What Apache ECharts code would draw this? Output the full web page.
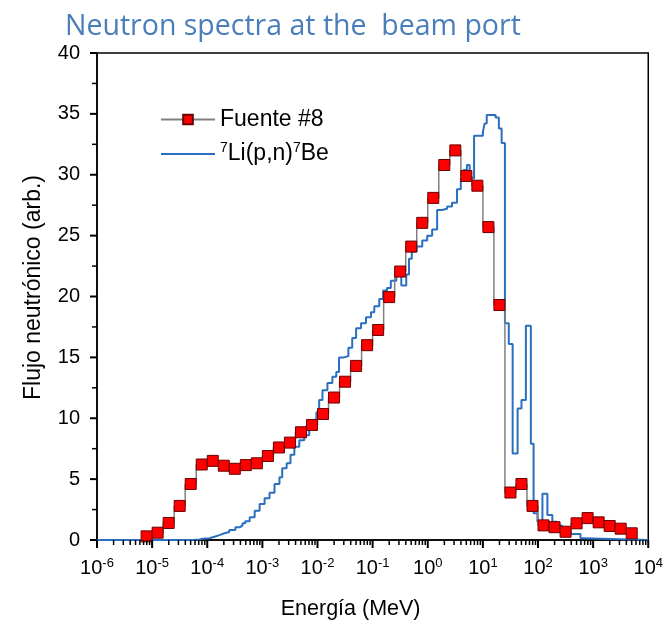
<!DOCTYPE html>
<html><head><meta charset="utf-8">
<script src="https://cdn.jsdelivr.net/npm/echarts@6/dist/echarts.min.js"></script>
<style>html,body{margin:0;padding:0;background:#fff}#c{width:666px;height:626px}</style>
</head><body><div id="c"></div>
<script>
// Fuente #8 : bin centres (log10 MeV) and flux
const fuenteLogE = [-5.1,-4.9,-4.7,-4.5,-4.3,-4.1,-3.9,-3.7,-3.5,-3.3,-3.1,-2.9,-2.7,-2.5,-2.3,-2.1,-1.9,-1.7,-1.5,-1.3,-1.1,-0.9,-0.7,-0.5,-0.3,-0.1,0.1,0.3,0.5,0.7,0.9,1.1,1.3,1.5,1.7,1.9,2.1,2.3,2.5,2.7,2.9,3.1,3.3,3.5,3.7];
const fuenteFlux = [0.3,0.6,1.4,2.8,4.6,6.2,6.5,6.1,5.85,6.15,6.3,6.9,7.6,8.0,8.85,9.45,10.35,11.7,13.0,14.3,16.0,17.25,19.95,22.05,24.1,26.05,28.1,30.8,32.0,29.9,29.1,25.7,19.3,3.9,4.6,2.8,1.2,1.05,0.68,1.37,1.8,1.45,1.15,0.93,0.55];
// 7Li(p,n)7Be : bin lower edges (log10 MeV) and flux
const liLogE = [-6,-4.39,-4.23,-4.14,-4.08,-3.96,-3.87,-3.78,-3.69,-3.60,-3.49,-3.41,-3.36,-3.31,-3.23,-3.14,-3.05,-2.96,-2.87,-2.78,-2.69,-2.64,-2.56,-2.49,-2.42,-2.33,-2.24,-2.15,-2.09,-2.02,-1.97,-1.91,-1.82,-1.73,-1.66,-1.61,-1.52,-1.44,-1.37,-1.30,-1.21,-1.12,-1.03,-0.97,-0.88,-0.81,-0.74,-0.67,-0.57,-0.48,-0.39,-0.34,-0.29,-0.20,-0.10,-0.01,0.08,0.17,0.26,0.35,0.44,0.53,0.60,0.65,0.71,0.76,0.84,1.00,1.03,1.07,1.23,1.29,1.34,1.40,1.47,1.54,1.63,1.70,1.78,1.87,1.92,1.99,2.08,2.17,2.26,2.34,2.43,2.59,2.77,2.82,4];
const liFlux = [0,0.02,0.05,0.1,0.15,0.27,0.4,0.55,0.65,0.82,1.04,1.2,1.37,1.55,1.86,2.4,2.96,3.42,3.88,4.6,5.15,5.9,6.3,7.0,7.66,8.2,8.6,9.3,9.6,10.5,11.5,12.3,12.9,13.4,13.8,15.0,15.1,15.8,16.6,17.4,17.8,18.3,18.7,19.2,19.8,20.5,20.7,21.3,21.8,20.9,21.8,23.1,23.7,24.1,24.6,25.0,25.5,27.1,27.2,27.4,27.7,28.8,29.7,30.4,30.8,29.7,33.2,33.5,34.2,34.9,34.7,33.8,32.6,17.8,16.1,7.1,10.8,11.5,17.6,7.9,2.2,1.5,3.8,2.05,1.5,1.2,0.7,0.5,0.15,0,0];
const xDecades = [1e-6,1e-5,1e-4,1e-3,1e-2,1e-1,1e0,1e1,1e2,1e3,1e4];
const yMajor = [0,5,10,15,20,25,30,35,40];

// axis tick marks (decoration only)
const xMinor = [];
for (let d = 0; d < xDecades.length - 1; d++) {
  for (let m = 2; m <= 9; m++) xMinor.push(xDecades[d] * m);
}
const yMinor = yMajor.slice(0, -1).map(v => v + 2.5);
const FONT = 'Liberation Sans';
const chart = echarts.init(document.getElementById('c'), null, {renderer: 'canvas'});
const fuenteData = fuenteLogE.map((e, i) => [Math.pow(10, e), fuenteFlux[i]]);
const liData = liLogE.map((e, i) => [Math.pow(10, e), liFlux[i]]);

chart.setOption({
  animation: false,
  backgroundColor: '#fff',
  title: {
    text: 'Neutron spectra at the  beam port',
    left: 60, top: 7,
    textStyle: {color: '#4a7ebb', fontSize: 28.5, fontWeight: 'normal', fontFamily: 'Open Sans'}
  },
  legend: {
    data: [{name: 'Fuente #8'}, {name: '7Li(p,n)7Be', itemStyle: {opacity: 0}}],
    orient: 'vertical',
    left: 155, top: 103,
    itemWidth: 54, itemHeight: 12, itemGap: 10,
    formatter: function (n) {
      if (n === 'Fuente #8') return '{b|Fuente #8}';
      return '{s|7}{b|Li(p,n)}{s|7}{b|Be}';
    },
    textStyle: {
      fontFamily: FONT, color: '#000', fontSize: 23,
      rich: {
        b: {fontFamily: FONT, fontSize: 23, color: '#000', lineHeight: 26},
        s: {fontFamily: FONT, fontSize: 14, color: '#000', lineHeight: 14, verticalAlign: 'top'}
      }
    }
  },
  grid: {left: 97, right: 16, top: 53, bottom: 86, containLabel: false, show: true, borderColor: '#000', borderWidth: 1.5},
  xAxis: {
    type: 'log', logBase: 10, min: 1e-6, max: 1e4,
    name: 'Energía (MeV)', nameLocation: 'middle', nameGap: 58,
    nameTextStyle: {fontFamily: FONT, fontSize: 21.5, color: '#000', padding: [0, 44, 0, 0]},
    axisLine: {show: true, lineStyle: {color: '#000', width: 1.5}},
    axisTick: {show: false},
    axisLabel: {
      customValues: xDecades, margin: 17, color: '#000',
      formatter: function (v) { return '{b|10}{s|' + Math.round(Math.log10(v)) + '}'; },
      rich: {
        b: {fontFamily: FONT, fontSize: 20, color: '#000', lineHeight: 22},
        s: {fontFamily: FONT, fontSize: 13, color: '#000', lineHeight: 13, verticalAlign: 'top'}
      }
    },
    splitLine: {show: false}
  },
  yAxis: {
    type: 'value', min: 0, max: 40, interval: 5,
    name: 'Flujo neutrónico (arb.)', nameLocation: 'middle', nameGap: 52,
    nameTextStyle: {fontFamily: FONT, fontSize: 23, color: '#000', padding: [0, 0, 0, 18]},
    axisLine: {show: true, lineStyle: {color: '#000', width: 1.5}},
    axisTick: {show: false},
    axisLabel: {fontFamily: FONT, fontSize: 20, color: '#000', margin: 17},
    splitLine: {show: false}
  },
  series: [{
    name: '7Li(p,n)7Be', type: 'line', step: 'end', data: liData,
    symbol: 'none', lineStyle: {color: '#2a6fc0', width: 2}, itemStyle: {color: '#2a6fc0'}, z: 2
  }, {
    name: 'Fuente #8', type: 'line', step: 'middle', data: fuenteData,
    symbol: 'rect', symbolSize: 11,
    lineStyle: {color: '#808080', width: 1.5},
    itemStyle: {color: '#ff0000', borderColor: '#6a0000', borderWidth: 1},
    z: 3
  }]
});

// tick marks positioned through the chart's own axis scales
const tickGraphics = [];
const addX = (vals, len, w) => vals.forEach(v => {
  const p = chart.convertToPixel({xAxisIndex: 0, yAxisIndex: 0}, [v, 0]);
  if (p) tickGraphics.push({type: 'line', silent: true, z: 100,
    shape: {x1: p[0], y1: p[1], x2: p[0], y2: p[1] + len},
    style: {stroke: '#000', lineWidth: w}});
});
const addY = (vals, len, w) => vals.forEach(v => {
  const p = chart.convertToPixel({xAxisIndex: 0, yAxisIndex: 0}, [1e-6, v]);
  if (p) tickGraphics.push({type: 'line', silent: true, z: 100,
    shape: {x1: p[0] - len, y1: p[1], x2: p[0], y2: p[1]},
    style: {stroke: '#000', lineWidth: w}});
});
addX(xDecades, 8, 2);
addX(xMinor, 5, 1.5);
addY(yMajor, 7, 2);
addY(yMinor, 5, 1.5);
chart.setOption({graphic: {elements: tickGraphics}});
</script>
</body></html>
